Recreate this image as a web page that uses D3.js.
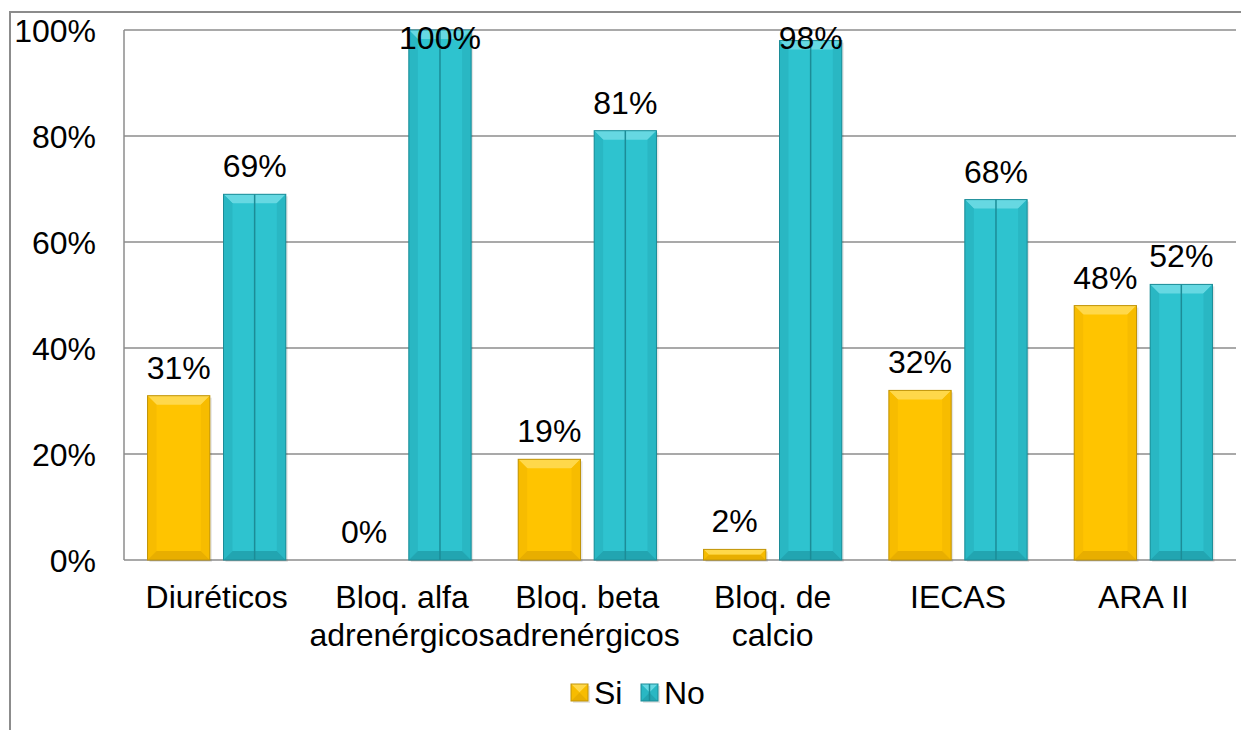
<!DOCTYPE html>
<html>
<head>
<meta charset="utf-8">
<script src="https://cdn.jsdelivr.net/npm/d3@7"></script>
<style>
  body { margin: 0; background: #fff; }
  svg { display: block; font-family: "Liberation Sans", Arial, sans-serif; }
</style>
</head>
<body>
<svg id="chart" width="1241" height="730"></svg>
<script>
const categories = ["Diuréticos", "Bloq. alfa adrenérgicos", "Bloq. beta adrenérgicos", "Bloq. de calcio", "IECAS", "ARA II"];
const series = ["Si", "No"];
const siValues = [31, 0, 19, 2, 32, 48];
const noValues = [69, 100, 81, 98, 68, 52];
const yTicks = [0, 20, 40, 60, 80, 100];

const palette = {
    Si: { main: "#FFC400", top: "#FFD84A", side: "#F7BC00", bottom: "#E8AE00", edge: "#C0940A" },
    No: { main: "#2EC3CF", top: "#66D8E2", side: "#29B7C3", bottom: "#22A5B1", edge: "#1C8C97" }
};

const svg = d3.select("#chart"),
    margin = { top: 30, right: 5, bottom: 170, left: 124 },
    width = 1241 - margin.left - margin.right,
    height = 730 - margin.top - margin.bottom;

// outer chart frame (only left and top visible)
svg.append("path")
    .attr("d", "M10,730 V12 H1241")
    .attr("fill", "none")
    .attr("stroke", "#8c8c8c")
    .attr("stroke-width", 2);

const chart = svg.append("g").attr("transform", `translate(${margin.left},${margin.top})`);

const x0 = d3.scaleBand().domain(categories).range([0, width]);
const x1 = d3.scaleBand().domain(series)
    .range([x0.bandwidth() * 0.127, x0.bandwidth() * 0.873])
    .paddingInner(0.18);
const y = d3.scaleLinear().domain([0, 100]).range([height, 0]);

// gridlines
chart.append("g")
    .selectAll("line")
    .data(yTicks)
    .join("line")
    .attr("x1", 0).attr("x2", width)
    .attr("y1", d => y(d)).attr("y2", d => y(d))
    .attr("stroke", "#8c8c8c")
    .attr("stroke-width", 1.5);

chart.append("line")
    .attr("x1", 0).attr("x2", 0)
    .attr("y1", 0).attr("y2", height)
    .attr("stroke", "#8c8c8c")
    .attr("stroke-width", 1.5);

// y axis labels
const yAxis = d3.axisLeft(y).tickValues(yTicks).tickSize(0).tickPadding(28).tickFormat(d => d + "%");
chart.append("g")
    .call(yAxis)
    .call(g => g.select(".domain").remove())
    .call(g => g.selectAll("text")
        .attr("dy", "0.35em")
        .style("font-size", "32px")
        .style("font-family", "'Liberation Sans', Arial, sans-serif")
        .style("fill", "#000"));

const rows = categories.map((c, i) => ({ cat: c, values: [
    { key: "Si", value: siValues[i] },
    { key: "No", value: noValues[i] }
]}));

function drawBar(g, bx, by, bw, bh, key) {
    const p = palette[key];
    g.append("rect")
        .attr("x", bx + 2).attr("y", by + 2)
        .attr("width", bw).attr("height", bh)
        .attr("fill", "rgba(0,0,0,0.10)");
    g.append("rect")
        .attr("x", bx).attr("y", by)
        .attr("width", bw).attr("height", bh)
        .attr("fill", p.main);
    const b = Math.min(9, bh / 2, bw / 2);
    const poly = (pts, fill) => g.append("polygon")
        .attr("points", pts.map(q => q.join(",")).join(" "))
        .attr("fill", fill);
    poly([[bx, by], [bx + bw, by], [bx + bw - b, by + b], [bx + b, by + b]], p.top);
    poly([[bx, by], [bx + b, by + b], [bx + b, by + bh - b], [bx, by + bh]], p.side);
    poly([[bx + bw, by], [bx + bw - b, by + b], [bx + bw - b, by + bh - b], [bx + bw, by + bh]], p.side);
    poly([[bx, by + bh], [bx + b, by + bh - b], [bx + bw - b, by + bh - b], [bx + bw, by + bh]], p.bottom);
    if (key === "No") {
        g.append("line")
            .attr("x1", bx + bw / 2).attr("x2", bx + bw / 2)
            .attr("y1", by).attr("y2", by + bh)
            .attr("stroke", p.edge)
            .attr("stroke-width", 1.5);
    }
    g.append("rect")
        .attr("x", bx).attr("y", by)
        .attr("width", bw).attr("height", bh)
        .attr("fill", "none")
        .attr("stroke", p.edge)
        .attr("stroke-width", 1);
}

const groups = chart.selectAll("g.cat")
    .data(rows)
    .join("g")
    .attr("class", "cat")
    .attr("transform", d => `translate(${x0(d.cat)},0)`);

groups.each(function (d) {
    const g = d3.select(this);
    d.values.forEach(v => {
        if (v.value > 0) {
            drawBar(g, x1(v.key), y(v.value), x1.bandwidth(), height - y(v.value), v.key);
        }
    });
});

// value labels
groups.each(function (d) {
    const g = d3.select(this);
    d.values.forEach(v => {
        g.append("text")
            .attr("x", x1(v.key) + x1.bandwidth() / 2)
            .attr("y", Math.max(y(v.value) - 17, 19))
            .attr("text-anchor", "middle")
            .style("font-size", "32px")
            .style("fill", "#000")
            .text(v.value + "%");
    });
});

// category labels, wrapped to band width
const xLabels = chart.append("g").attr("transform", `translate(0,${height})`);
categories.forEach(c => {
    const cx = x0(c) + x0.bandwidth() / 2;
    const t = xLabels.append("text")
        .attr("x", cx)
        .attr("y", 48)
        .attr("text-anchor", "middle")
        .style("font-size", "32px")
        .style("fill", "#000");
    const words = c.split(" ");
    let line = [];
    let tspan = t.append("tspan").attr("x", cx).attr("dy", 0);
    words.forEach(w => {
        line.push(w);
        tspan.text(line.join(" "));
        if (tspan.node().getComputedTextLength() > x0.bandwidth() && line.length > 1) {
            line.pop();
            tspan.text(line.join(" "));
            line = [w];
            tspan = t.append("tspan").attr("x", cx).attr("dy", 38).text(w);
        }
    });
});

// legend
const legend = svg.append("g").attr("transform", "translate(571,684)");
const legendItems = [{ key: "Si", x: 0 }, { key: "No", x: 70 }];
legendItems.forEach(it => {
    const lg = legend.append("g").attr("transform", `translate(${it.x},0)`);
    drawBar(lg, 0, 0, 17, 17, it.key);
    lg.append("text")
        .attr("x", 23)
        .attr("y", 20)
        .style("font-size", "32px")
        .style("fill", "#000")
        .text(it.key);
});
</script>
</body>
</html>
